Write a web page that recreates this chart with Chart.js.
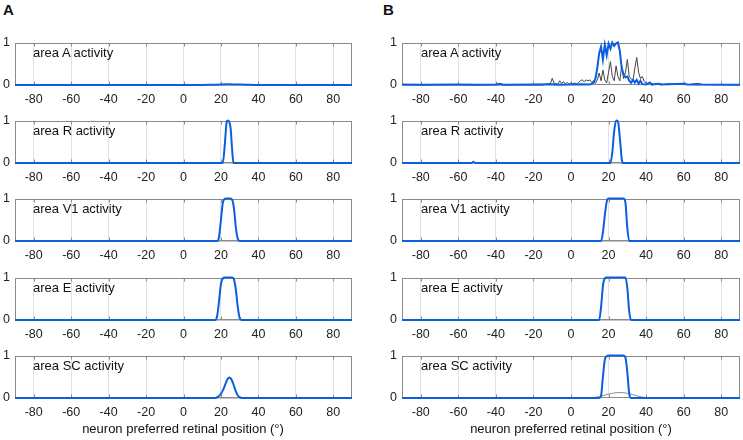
<!DOCTYPE html>
<html>
<head>
<meta charset="utf-8">
<script src="https://cdn.jsdelivr.net/npm/chart.js@4"></script>
<style>
  html, body { margin: 0; padding: 0; background: #fff; }
  #fig { position: relative; width: 743px; height: 440px; font-family: "Liberation Sans", Arial, sans-serif; color: #111; }
  #fig canvas { position: absolute; }
  .txt { position: absolute; font-size: 13px; line-height: 15px; white-space: nowrap; }
  .letter { position: absolute; font-size: 15px; font-weight: bold; line-height: 15px; }
</style>
</head>
<body>
<div id="fig"></div>
<script>
// tick labels
const xTicks = [-80, -60, -40, -20, 0, 20, 40, 60, 80];
const yTicks = [0, 1];
const areaNames = ['A', 'R', 'V1', 'E', 'SC'];

// gray baseline (second trace, flat at zero)
const base_x = [-90, 90];
const base_y = [0, 0];

// column A, blue traces
const aA_x = [-90, 10, 15, 20, 24, 28, 33, 40, 90];
const aA_y = [0, 0, 0.005, 0.012, 0.015, 0.012, 0.006, 0, 0];
const aR_x = [-90, 21, 22, 23, 23.5, 24.5, 25.2, 26, 26.7, 90];
const aR_y = [0, 0, 0.4, 0.95, 1, 0.96, 0.8, 0.3, 0, 0];
const aV1_x = [-90, 18, 19, 20, 21, 22, 23, 25, 26, 27, 28, 29, 30, 90];
const aV1_y = [0, 0, 0.1, 0.5, 0.9, 0.99, 1, 1, 0.97, 0.75, 0.3, 0.05, 0, 0];
const aE_x = [-90, 17, 18, 19, 20, 21, 22, 26, 27, 28, 29, 30, 31, 90];
const aE_y = [0, 0, 0.1, 0.45, 0.85, 0.98, 1, 1, 0.95, 0.7, 0.3, 0.05, 0, 0];
const aSC_x = [-90, 17, 18, 19, 20, 21, 22, 23, 24, 24.5, 25, 26, 27, 28, 29, 30, 31, 90];
const aSC_y = [0, 0, 0.02, 0.05, 0.1, 0.18, 0.28, 0.4, 0.47, 0.48, 0.47, 0.4, 0.28, 0.15, 0.06, 0.02, 0, 0];

// column B, blue traces
const bA_x = [-90, -80, -60, -50, -40, -38, -36, -20, -10, -8, 0, 5, 10, 12, 13, 14, 15, 16, 17, 18, 19, 20, 21, 22, 23, 24, 25, 26, 27, 28, 29, 30, 31, 32, 33, 34, 35, 36, 37, 38, 40, 42, 43, 46, 48, 60, 62, 90];
const bA_y = [0.01, 0.005, 0.01, 0.005, 0.01, 0.03, 0.005, 0.01, 0.02, 0.005, 0.01, 0.02, 0.01, 0.05, 0.15, 0.4, 0.75, 0.9, 0.6, 0.95, 0.7, 0.97, 0.85, 1, 0.92, 0.98, 1, 0.8, 0.4, 0.25, 0.18, 0.2, 0.1, 0.05, 0.12, 0.06, 0.12, 0.03, 0.1, 0.02, 0.01, 0.06, 0.01, 0.03, 0.01, 0.03, 0.01, 0.005];
const bR_x = [-90, -53, -52, -51, 21, 22, 23, 24, 25, 26, 27, 27.5, 90];
const bR_y = [0, 0, 0.03, 0, 0, 0.25, 0.75, 1, 0.98, 0.6, 0.1, 0, 0];
const bV1_x = [-90, 16, 17, 18, 19, 20, 28, 29, 30, 31, 90];
const bV1_y = [0, 0, 0.2, 0.6, 0.92, 1, 1, 0.9, 0.3, 0, 0];
const bE_x = [-90, 15, 16, 17, 18, 19, 29, 30, 31, 32, 90];
const bE_y = [0, 0, 0.3, 0.8, 0.98, 1, 1, 0.75, 0.2, 0, 0];
const bSC_x = [-90, 15, 16, 17, 18, 19, 20, 28, 29, 30, 31, 32, 90];
const bSC_y = [0, 0, 0.05, 0.5, 0.9, 0.98, 1, 1, 0.95, 0.6, 0.1, 0, 0];

// column B, gray traces
const gA_x = [-90, -15, -13, -11, -10, -9, -7, -6, -5, -4, -3, -2, -1, 0, 1, 2, 3, 4, 5, 6, 7, 8, 9, 10, 11, 12, 13, 14, 15, 16, 17, 18, 19, 20, 21, 22, 23, 24, 25, 26, 27, 28, 29, 30, 31, 32, 33, 34, 35, 36, 37, 38, 39, 40, 41, 42, 44, 47, 49, 52, 55, 60, 62, 68, 70, 90];
const gA_y = [0, 0, 0.02, 0.03, 0.16, 0.04, 0.02, 0.1, 0.03, 0.08, 0.02, 0.06, 0.02, 0.05, 0.03, 0.05, 0.02, 0.06, 0.1, 0.12, 0.08, 0.12, 0.1, 0.12, 0.06, 0.1, 0.04, 0.12, 0.28, 0.1, 0.35, 0.12, 0.05, 0.3, 0.55, 0.2, 0.1, 0.45, 0.2, 0.1, 0.45, 0.15, 0.3, 0.6, 0.2, 0.15, 0.1, 0.4, 0.65, 0.3, 0.15, 0.2, 0.08, 0.05, 0.02, 0.06, 0.01, 0.04, 0.01, 0.03, 0.01, 0.03, 0.01, 0.04, 0.01, 0];
const gSC_x = [-90, 5, 10, 15, 18, 20, 22, 24, 26, 28, 30, 32, 34, 36, 38, 40, 45, 90];
const gSC_y = [0, 0, 0.005, 0.03, 0.07, 0.09, 0.11, 0.125, 0.13, 0.125, 0.11, 0.09, 0.065, 0.04, 0.02, 0.01, 0, 0];

const BLUE = '#0a5fe0';

const columns = [
  { letter: 'A', left: 0, width: 362, axisW: 15, labelX: 33,
    blue: [[aA_x, aA_y], [aR_x, aR_y], [aV1_x, aV1_y], [aE_x, aE_y], [aSC_x, aSC_y]],
    gray: [[base_x, base_y], [base_x, base_y], [base_x, base_y], [base_x, base_y], [base_x, base_y]],
    xTitle: 183 },
  { letter: 'B', left: 380, width: 363, axisW: 22, labelX: 421,
    blue: [[bA_x, bA_y], [bR_x, bR_y], [bV1_x, bV1_y], [bE_x, bE_y], [bSC_x, bSC_y]],
    gray: [[gA_x, gA_y], [base_x, base_y], [base_x, base_y], [base_x, base_y], [gSC_x, gSC_y]],
    xTitle: 571 }
];
const rowTops = [40, 118, 196, 275, 353];
const plotH = 45, padTop = 10, xAxisH = 25, plotRight = [352, 740];

// axes box and inward tick marks, drawn under the traces
const boxPlugin = {
  id: 'box',
  beforeDatasetsDraw(chart) {
    const { ctx, chartArea: a, scales: { x } } = chart;
    const l = Math.round(a.left) + 0.5, r = Math.round(a.right) - 0.5;
    const t = Math.round(a.top) + 0.5, b = Math.round(a.bottom) - 0.5;
    ctx.save();
    ctx.strokeStyle = '#8a8a8a';
    ctx.lineWidth = 1;
    ctx.strokeRect(l, t, r - l, b - t);
    ctx.beginPath();
    xTicks.forEach(v => {
      const px = Math.round(x.getPixelForValue(v)) + 0.5;
      ctx.moveTo(px, b); ctx.lineTo(px, b - 3);
      ctx.moveTo(px, t); ctx.lineTo(px, t + 3);
    });
    ctx.stroke();
    ctx.restore();
  }
};

const fig = document.getElementById('fig');

function addText(cls, text, left, top) {
  const d = document.createElement('div');
  d.className = cls;
  d.textContent = text;
  d.style.left = left + 'px';
  d.style.top = top + 'px';
  fig.appendChild(d);
  return d;
}

function toPoints(xs, ys) {
  return xs.map((v, i) => ({ x: v, y: ys[i] }));
}

columns.forEach((col, ci) => {
  addText('letter', col.letter, col.left + 3, 2);
  rowTops.forEach((top, ri) => {
    const cv = document.createElement('canvas');
    const h = padTop + plotH + xAxisH;
    cv.width = col.width; cv.height = h;
    cv.style.left = col.left + 'px';
    cv.style.top = (top - padTop) + 'px';
    cv.style.width = col.width + 'px';
    cv.style.height = h + 'px';
    fig.appendChild(cv);

    const noisy = ci === 1 && ri === 0;
    const [bx, by] = col.blue[ri];
    const [gx, gy] = col.gray[ri];

    new Chart(cv, {
      type: 'line',
      data: {
        datasets: [
          { data: toPoints(bx, by), borderColor: BLUE, borderWidth: 2, pointRadius: 0, clip: 3,
            tension: noisy ? 0 : 0.3, cubicInterpolationMode: noisy ? 'default' : 'monotone' },
          { data: toPoints(gx, gy), borderColor: noisy ? '#444' : '#8c8c8c', borderWidth: 1, pointRadius: 0, clip: 3,
            tension: noisy ? 0 : 0.3, cubicInterpolationMode: noisy ? 'default' : 'monotone' }
        ]
      },
      options: {
        responsive: false,
        animation: false,
        events: [],
        layout: { padding: { top: padTop, right: col.left + col.width - plotRight[ci], left: 0, bottom: 0 } },
        plugins: { legend: { display: false }, tooltip: { enabled: false } },
        scales: {
          x: {
            type: 'linear', min: -90, max: 90,
            afterBuildTicks: s => { s.ticks = xTicks.map(v => ({ value: v })); },
            afterFit: s => { s.height = xAxisH; },
            grid: { color: '#e2e2e2', drawTicks: false },
            border: { display: false },
            ticks: { padding: 7, color: '#222', autoSkip: false, maxRotation: 0,
                     font: { family: 'Liberation Sans', size: 12.5 } }
          },
          y: {
            type: 'linear', min: 0, max: 1,
            afterBuildTicks: s => { s.ticks = yTicks.map(v => ({ value: v })); },
            afterFit: s => { s.width = col.axisW; },
            grid: { display: false, drawTicks: false },
            border: { display: false },
            ticks: { padding: 5, color: '#222', font: { family: 'Liberation Sans', size: 12.5 } }
          }
        }
      },
      plugins: [boxPlugin]
    });

    addText('txt', 'area ' + areaNames[ri] + ' activity', col.labelX, top + 5);
  });
  const t = addText('txt', 'neuron preferred retinal position (°)', col.xTitle, 421);
  t.style.transform = 'translateX(-50%)';
});
</script>
</body>
</html>
